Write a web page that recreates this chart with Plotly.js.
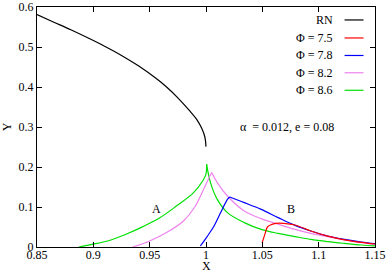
<!DOCTYPE html>
<html>
<head>
<meta charset="utf-8">
<script src="https://cdn.plot.ly/plotly-3.0.1.min.js"></script>
<style>html,body{margin:0;padding:0;background:#fff;}#chart{width:389px;height:273px;}</style>
</head>
<body>
<div id="chart"></div>
<script>
// RN curve
const rnX = [0.85, 0.865, 0.88, 0.895, 0.91, 0.925, 0.94, 0.955, 0.965, 0.975, 0.985, 0.992, 0.996, 0.999, 1.0];
const rnY = [0.581, 0.562, 0.543, 0.523, 0.502, 0.479, 0.453, 0.423, 0.400, 0.373, 0.342, 0.318, 0.298, 0.275, 0.251];

// Phi = 7.5 (red)
const p75X = [1.0498, 1.0525, 1.0545, 1.058, 1.062, 1.069, 1.079, 1.093, 1.108, 1.123, 1.138, 1.15];
const p75Y = [0.010, 0.034, 0.050, 0.056, 0.059, 0.059, 0.055, 0.040, 0.027, 0.018, 0.0115, 0.0075];

// Phi = 7.8 (blue): rising branch, falling branch
const p78LX = [0.995, 1.001, 1.007, 1.013, 1.019, 1.021];
const p78LY = [0.0025, 0.026, 0.052, 0.086, 0.119, 0.125];
const p78RX = [1.021, 1.034, 1.049, 1.064, 1.079, 1.093, 1.108, 1.123, 1.138, 1.15];
const p78RY = [0.125, 0.111, 0.094, 0.0735, 0.054, 0.040, 0.0275, 0.019, 0.0125, 0.0085];

// Phi = 8.2 (violet)
const p82LX = [0.935, 0.950, 0.965, 0.980, 0.990, 0.998, 1.005];
const p82LY = [0.0, 0.015, 0.036, 0.065, 0.100, 0.145, 0.186];
const p82RX = [1.005, 1.010, 1.019, 1.034, 1.049, 1.064, 1.079, 1.093, 1.108, 1.123, 1.138, 1.15];
const p82RY = [0.186, 0.161, 0.1275, 0.090, 0.071, 0.057, 0.044, 0.034, 0.026, 0.018, 0.011, 0.007];

// Phi = 8.6 (green)
const p86LX = [0.887, 0.900, 0.915, 0.929, 0.944, 0.959, 0.974, 0.989, 0.997, 1.0, 1.0005];
const p86LY = [0.0, 0.007, 0.017, 0.032, 0.051, 0.073, 0.103, 0.136, 0.165, 0.182, 0.207];
const p86RX = [1.0005, 1.004, 1.010, 1.019, 1.034, 1.049, 1.064, 1.079, 1.093, 1.108, 1.123, 1.138, 1.15];
const p86RY = [0.207, 0.161, 0.119, 0.086, 0.061, 0.044, 0.034, 0.026, 0.019, 0.0135, 0.009, 0.005, 0.003];

const legendNames = ["RN", "Φ = 7.5", "Φ = 7.8", "Φ = 8.2", "Φ = 8.6"];
const legendColors = ["#000000", "#ff0000", "#0000ff", "#ee82ee", "#00e000"];

const xTickVals = [0.85, 0.9, 0.95, 1.0, 1.05, 1.1, 1.15];
const xTickText = ["0.85", "0.9", "0.95", "1", "1.05", "1.1", "1.15"];
const yTickVals = [0, 0.1, 0.2, 0.3, 0.4, 0.5, 0.6];
const yTickText = ["0", "0.1", "0.2", "0.3", "0.4", "0.5", "0.6"];

const FONT = "Liberation Serif";

function tr(x, y, color) {
  return {x: x, y: y, type: 'scatter', mode: 'lines', showlegend: false, hoverinfo: 'skip',
          line: {color: color, width: 1.2, shape: 'spline', smoothing: 1}};
}

const data = [
  tr(rnX, rnY, legendColors[0]),
  tr(p86LX, p86LY, legendColors[4]), tr(p86RX, p86RY, legendColors[4]),
  tr(p82LX, p82LY, legendColors[3]), tr(p82RX, p82RY, legendColors[3]),
  tr(p78LX, p78LY, legendColors[2]), tr(p78RX, p78RY, legendColors[2]),
  tr(p75X, p75Y, legendColors[1])
];

// manual gnuplot-style legend (text left, sample line right)
const legY = [0.946, 0.871, 0.798, 0.726, 0.653];
const annotations = [];
const shapes = [];
legendNames.forEach((n, i) => {
  annotations.push({xref: 'paper', yref: 'paper', x: 0.883, y: legY[i], text: n, showarrow: false,
    xanchor: 'right', yanchor: 'middle', font: {family: FONT, size: 12, color: '#000'}});
  shapes.push({type: 'line', xref: 'paper', yref: 'paper', x0: 0.910, x1: 0.966, y0: legY[i], y1: legY[i],
    line: {color: legendColors[i], width: 1.2}});
});
annotations.push({x: 1.072, y: 0.299, text: "α\u00a0 = 0.012, e = 0.08", showarrow: false,
  font: {family: FONT, size: 12, color: '#000'}});
annotations.push({x: 0.956, y: 0.096, text: "A", showarrow: false, font: {family: FONT, size: 12, color: '#000'}});
annotations.push({x: 1.0755, y: 0.096, text: "B", showarrow: false, font: {family: FONT, size: 12, color: '#000'}});
// x-axis title placed like gnuplot
annotations.push({xref: 'paper', yref: 'paper', x: 0.5, y: -0.079, yanchor: 'middle', text: "X", showarrow: false,
  font: {family: FONT, size: 12, color: '#000'}});

const layout = {
  width: 389, height: 273,
  margin: {l: 37, r: 13.5, t: 7, b: 25.5},
  paper_bgcolor: '#fff', plot_bgcolor: '#fff',
  font: {family: FONT, size: 12, color: '#000'},
  showlegend: false,
  xaxis: {range: [0.85, 1.15], tickvals: xTickVals, ticktext: xTickText,
    ticks: 'inside', ticklen: 5, tickcolor: '#000', showline: true, linecolor: '#000', linewidth: 1,
    mirror: 'ticks', showgrid: false, zeroline: false, tickfont: {family: FONT, size: 12},
    ticklabelstandoff: -3},
  yaxis: {range: [0, 0.6], tickvals: yTickVals, ticktext: yTickText,
    ticks: 'inside', ticklen: 5, tickcolor: '#000', showline: true, linecolor: '#000', linewidth: 1,
    mirror: 'ticks', showgrid: false, zeroline: false, tickfont: {family: FONT, size: 12},
    title: {text: 'Y', font: {family: FONT, size: 12}, standoff: 8}},
  annotations: annotations,
  shapes: shapes
};

Plotly.newPlot('chart', data, layout, {displayModeBar: false, staticPlot: true});
</script>
</body>
</html>
